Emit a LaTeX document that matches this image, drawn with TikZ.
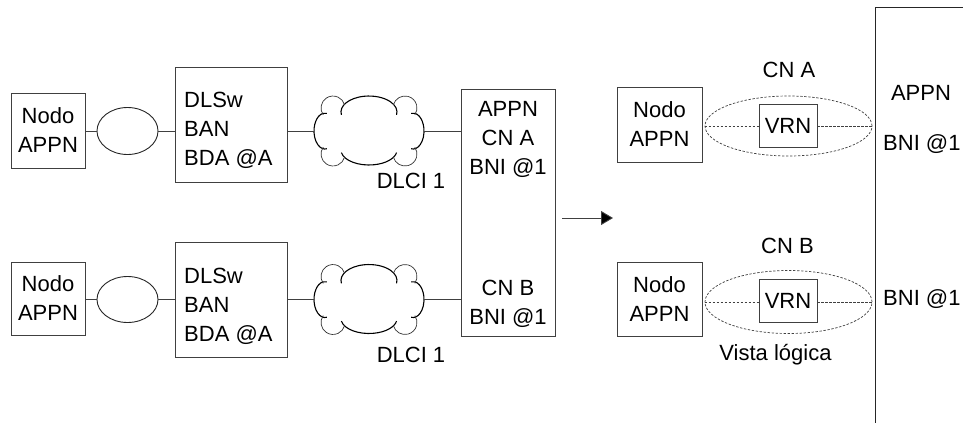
\documentclass[tikz,border=0pt]{standalone}
\usepackage{fontspec}
\setmainfont{Liberation Sans}
\usetikzlibrary{arrows.meta,shapes.geometric}

\tikzset{
  lbl/.style={font=\fontsize{22}{29}\selectfont, inner sep=0pt},
  boxed/.style={draw=black!75, line width=0.9pt, inner sep=0pt},
  linkline/.style={draw=black!75, line width=0.9pt},
  oval/.style={ellipse, draw=black!85, line width=0.9pt, inner sep=0pt},
  dashoval/.style={ellipse, draw=black!75, dash pattern=on 2.4pt off 1.6pt, line width=0.7pt, inner sep=0pt},
  dashline/.style={draw=black!75, dash pattern=on 2.4pt off 1.6pt, line width=0.7pt},
  frameline/.style={draw=black!85, line width=1.3pt},
  cloudspot/.style={inner sep=0pt, minimum width=110pt, minimum height=70pt},
  % frame-relay cloud: a body of four elliptic arcs plus four corner lobes
  cloudpic/.pic={
    \begin{scope}[yscale=-1]
      \draw[black, line width=1.1pt]
        (-27.6,16.2) arc[start angle=190, end angle=-10, x radius=28, y radius=16];
      \draw[black, line width=1.1pt]
        (-27.6,-21.6) arc[start angle=190, end angle=350, x radius=28, y radius=15];
      \draw[black, line width=1.1pt]
        (-42.1,17.7) arc[start angle=80, end angle=280, x radius=11, y radius=18];
      \draw[black, line width=1.1pt]
        (42.1,17.7) arc[start angle=100, end angle=-100, x radius=11, y radius=18];
      \draw[black!80, line width=0.7pt]
        (-45.8,16.1) arc[start angle=215, end angle=15, radius=12];
      \draw[black!80, line width=0.7pt]
        (24.4,26.1) arc[start angle=165, end angle=-35, radius=12];
      \draw[black!80, line width=0.7pt]
        (-45.8,-16.1) arc[start angle=145, end angle=345, radius=12];
      \draw[black!80, line width=0.7pt]
        (24.4,-26.1) arc[start angle=195, end angle=395, radius=12];
    \end{scope}
  }
}

\begin{document}
\begin{tikzpicture}[x=1pt,y=-1pt]
\useasboundingbox (0,0) rectangle (963,423);

% ---- physical view, upper branch ----
\node[boxed, lbl, minimum width=74pt, minimum height=75pt, align=center] (na1) at (48,130.5) {Nodo\\APPN};
\node[oval, minimum width=61pt, minimum height=47pt] (ea1) at (127.5,131) {};
\node[boxed, minimum width=112pt, minimum height=115pt] (da1) at (231,124.5) {};
\node[lbl, align=left, anchor=west] (ta1) at (184,130.4) {DLSw\\BAN\\BDA @A};
\node[cloudspot] (cl1) at (369,131) {};
\pic at (cl1) {cloudpic};
\node[lbl, anchor=base] (dl1) at (411,188) {DLCI 1};

% ---- physical view, lower branch ----
\node[boxed, lbl, minimum width=74pt, minimum height=73pt, align=center] (nb1) at (48,298.5) {Nodo\\APPN};
\node[oval, minimum width=61pt, minimum height=46pt] (eb1) at (127.5,299.5) {};
\node[boxed, minimum width=112pt, minimum height=115pt] (db1) at (231,299.5) {};
\node[lbl, align=left, anchor=west] (tb1) at (184,306.4) {DLSw\\BAN\\BDA @A};
\node[cloudspot] (cl2) at (369,299.5) {};
\pic at (cl2) {cloudpic};
\node[lbl, anchor=base] (dl2) at (411,362) {DLCI 1};

% ---- shared APPN node ----
\node[boxed, minimum width=94pt, minimum height=247pt] (mid) at (508,212.5) {};
\node[lbl, align=center] (tm1) at (508,139.4) {APPN\\CN A\\BNI @1};
\node[lbl, align=center] (tm2) at (508,303.9) {CN B\\BNI @1};

% ---- links ----
\draw[linkline] (ea1.west -| na1.east) -- (ea1.west);
\draw[linkline] (ea1.east) -- (ea1.east -| da1.west);
\draw[linkline] (cl1.west -| da1.east) -- (cl1.west);
\draw[linkline] (cl1.east) -- (cl1.east -| mid.west);
\draw[linkline] (eb1.west -| nb1.east) -- (eb1.west);
\draw[linkline] (eb1.east) -- (eb1.east -| db1.west);
\draw[linkline] (cl2.west -| db1.east) -- (cl2.west);
\draw[linkline] (cl2.east) -- (cl2.east -| mid.west);

% ---- arrow to the logical view ----
\coordinate (arS) at (562,218);
\coordinate (arE) at (613,218);
\draw[linkline, -{Triangle[length=12pt,width=14pt,fill=black]}] (arS) -- (arE);

% ---- logical view ----
\node[lbl, anchor=base] (cna) at (789,77) {CN A};
\node[boxed, lbl, minimum width=85pt, minimum height=75pt, align=center] (ra) at (659.5,124.5) {Nodo\\APPN};
\node[dashoval, minimum width=167pt, minimum height=60pt] (oa) at (788.5,126) {};
\node[boxed, lbl, minimum width=58pt, minimum height=43pt, fill=white] (va) at (788,126) {VRN};
\draw[dashline] (oa.west) -- (oa.west -| va.west);
\draw[dashline] (oa.east -| va.east) -- (oa.east);

\node[lbl, anchor=base] (cnb) at (787.5,253) {CN B};
\node[boxed, lbl, minimum width=85pt, minimum height=74pt, align=center] (rb) at (659.5,299) {Nodo\\APPN};
\node[dashoval, minimum width=167pt, minimum height=63pt] (ob) at (788.5,302) {};
\node[boxed, lbl, minimum width=58pt, minimum height=43pt, fill=white] (vb) at (788,301) {VRN};
\draw[dashline] (ob.west) -- (ob.west -| vb.west);
\draw[dashline] (ob.east -| vb.east) -- (ob.east);
\node[lbl, anchor=base] (vista) at (775.5,360) {Vista lógica};

% ---- APPN network node frame on the right ----
\coordinate (fTop) at (963,7.5);
\coordinate (fCorner) at (875.5,7.5);
\coordinate (fBot) at (875.5,423);
\draw[frameline] (fTop) -- (fCorner) -- (fBot);
\node[lbl, anchor=base] (rappn) at (921,100) {APPN};
\node[lbl, anchor=base west] (rbni1) at (883,150) {BNI @1};
\node[lbl, anchor=base west] (rbni2) at (883,305) {BNI @1};

\end{tikzpicture}
\end{document}
